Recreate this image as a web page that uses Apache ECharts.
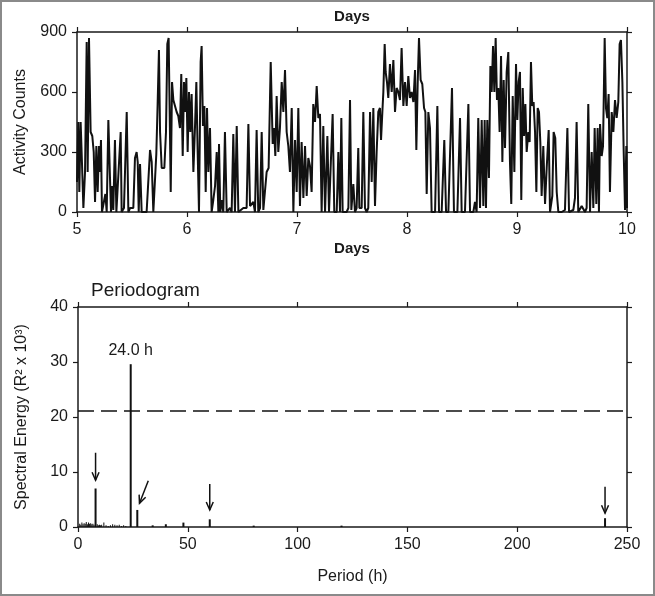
<!DOCTYPE html>
<html>
<head>
<meta charset="utf-8">
<script src="https://cdn.jsdelivr.net/npm/echarts@6/dist/echarts.min.js"></script>
<style>
html,body{margin:0;padding:0;background:#fff;}
#c{width:655px;height:596px;}
</style>
</head>
<body>
<div id="c"></div>
<script>
// ---- Activity (day, counts) ----
const activity = [
[5.000,150],[5.012,450],[5.021,100],[5.033,450],[5.045,250],[5.058,20],[5.073,200],[5.088,850],[5.097,200],[5.109,870],
[5.124,400],[5.139,380],[5.152,300],[5.164,50],[5.176,330],[5.188,100],[5.200,330],[5.209,200],[5.218,360],[5.227,0],
[5.245,0],[5.258,90],[5.270,0],[5.285,460],[5.300,170],[5.309,0],[5.318,130],[5.330,10],[5.345,360],[5.358,0],
[5.376,0],[5.397,400],[5.406,0],[5.427,20],[5.452,500],[5.467,0],[5.482,20],[5.512,20],[5.527,270],[5.542,300],
[5.552,250],[5.561,0],[5.573,240],[5.588,0],[5.633,0],[5.664,310],[5.679,250],[5.694,0],[5.709,0],[5.721,290],
[5.733,540],[5.745,810],[5.755,400],[5.770,220],[5.794,220],[5.809,400],[5.821,840],[5.833,870],[5.845,400],[5.852,100],
[5.864,650],[5.876,560],[5.891,570],[5.906,500],[5.921,480],[5.936,420],[5.948,690],[5.961,280],[5.973,650],[5.985,500],
[5.994,670],[6.006,300],[6.018,600],[6.030,400],[6.042,590],[6.058,200],[6.073,430],[6.085,650],[6.097,300],[6.109,0],
[6.124,750],[6.133,830],[6.145,430],[6.158,530],[6.170,100],[6.182,520],[6.194,200],[6.209,420],[6.224,0],[6.239,60],
[6.255,130],[6.270,300],[6.285,0],[6.291,340],[6.303,0],[6.315,60],[6.330,0],[6.345,400],[6.361,0],[6.391,20],
[6.406,0],[6.421,390],[6.436,0],[6.452,430],[6.467,0],[6.512,20],[6.542,20],[6.558,440],[6.573,30],[6.603,50],
[6.618,0],[6.633,410],[6.648,0],[6.664,20],[6.679,400],[6.694,10],[6.709,0],[6.724,200],[6.742,220],[6.761,750],
[6.779,340],[6.791,420],[6.803,280],[6.815,580],[6.830,300],[6.845,420],[6.861,650],[6.876,500],[6.891,710],[6.906,400],
[6.921,330],[6.936,200],[6.952,520],[6.967,0],[6.982,360],[6.997,100],[7.012,520],[7.027,30],[7.042,350],[7.058,70],
[7.073,330],[7.088,80],[7.103,270],[7.118,230],[7.133,100],[7.148,540],[7.164,450],[7.179,630],[7.194,470],[7.209,490],
[7.224,0],[7.239,430],[7.255,0],[7.276,380],[7.291,0],[7.309,0],[7.324,490],[7.339,0],[7.361,0],[7.376,300],
[7.391,0],[7.403,470],[7.415,0],[7.451,0],[7.467,20],[7.482,560],[7.494,10],[7.512,140],[7.527,0],[7.542,20],
[7.557,320],[7.567,20],[7.588,20],[7.603,500],[7.618,20],[7.633,0],[7.648,20],[7.664,500],[7.679,150],[7.694,520],
[7.709,30],[7.724,300],[7.739,500],[7.754,520],[7.764,360],[7.776,500],[7.785,600],[7.797,840],[7.806,700],[7.818,650],
[7.830,570],[7.845,740],[7.861,600],[7.876,760],[7.891,500],[7.906,620],[7.921,600],[7.936,560],[7.951,820],[7.967,530],
[7.982,650],[7.997,530],[8.012,680],[8.027,570],[8.042,600],[8.058,550],[8.073,710],[8.085,310],[8.097,640],[8.109,870],
[8.124,660],[8.139,640],[8.155,520],[8.167,500],[8.179,90],[8.194,500],[8.209,420],[8.224,0],[8.255,0],[8.276,530],
[8.291,0],[8.315,0],[8.339,360],[8.355,0],[8.376,0],[8.409,620],[8.427,0],[8.458,0],[8.482,470],[8.497,0],
[8.527,0],[8.558,540],[8.573,0],[8.603,0],[8.618,50],[8.633,0],[8.648,470],[8.664,20],[8.679,460],[8.694,30],
[8.706,460],[8.718,20],[8.730,460],[8.745,170],[8.758,730],[8.770,600],[8.782,830],[8.794,600],[8.806,870],[8.818,560],
[8.830,620],[8.842,400],[8.855,780],[8.867,250],[8.879,660],[8.891,320],[8.906,700],[8.921,800],[8.936,250],[8.948,40],
[8.961,580],[8.976,200],[8.991,740],[9.003,460],[9.015,650],[9.027,700],[9.039,60],[9.052,620],[9.064,380],[9.076,540],
[9.088,300],[9.103,400],[9.115,350],[9.127,750],[9.139,530],[9.151,550],[9.164,400],[9.176,100],[9.188,520],[9.200,500],
[9.212,350],[9.224,80],[9.239,330],[9.255,40],[9.270,220],[9.288,410],[9.300,0],[9.321,80],[9.333,400],[9.348,370],
[9.361,100],[9.376,0],[9.406,0],[9.436,10],[9.458,420],[9.473,0],[9.512,10],[9.527,70],[9.542,450],[9.557,0],
[9.588,30],[9.603,40],[9.618,0],[9.633,20],[9.648,540],[9.664,0],[9.679,300],[9.694,20],[9.706,420],[9.721,40],
[9.733,420],[9.745,0],[9.755,440],[9.770,280],[9.782,330],[9.797,870],[9.809,520],[9.821,470],[9.833,590],[9.845,100],
[9.861,500],[9.876,400],[9.891,560],[9.906,470],[9.921,550],[9.933,840],[9.945,860],[9.958,650],[9.970,300],[9.982,10],
[9.994,330],[10.000,20]
];

// ---- Periodogram ----
const noisePeriods = [1,1.5,2,2.5,3,3.5,4,4.5,5,5.5,6,6.5,7,7.5,9,9.5,10,10.5,11,12,13,14,15,16,17,18,19,20,21,22];
const noiseEnergy  = [0.6,0.4,0.8,0.5,0.7,0.6,0.9,0.5,0.8,0.6,0.7,0.5,0.6,0.4,0.5,0.3,0.4,0.3,0.4,0.8,0.3,0.2,0.3,0.5,0.4,0.3,0.4,0.2,0.3,0.2];
const peakPeriods  = [8,24,27,34,40,48,60,80,120,240];
const peakEnergy   = [7.0,29.6,3.1,0.3,0.5,0.8,1.4,0.25,0.25,1.6];
const significance = 21.2;
const mainPeak = 24;
const mainPeakLabel = '24.0 h';
// arrows: [fromPeriod, fromEnergy, toPeriod, toEnergy]
const arrows = [[8,13.5,8,8.5],[32,8.4,28,4.3],[60,7.8,60,3.1],[240,7.3,240,2.5]];

const dayTicks = [5,10,1];
const countTicks = [0,900,300];
const periodTicks = [0,250,50];
const energyTicks = [0,40,10];

const FONT = '"Liberation Sans", Arial, sans-serif';
const INK = '#1a1a1a';

function axisCommon(extra){
  return Object.assign({
    type:'value',
    axisLine:{show:true,onZero:false,lineStyle:{color:INK,width:1.5}},
    axisTick:{show:true,inside:false,length:5,lineStyle:{color:INK,width:1.2}},
    axisLabel:{show:true,color:INK,fontSize:16,fontFamily:FONT,margin:10},
    splitLine:{show:false},
    nameTextStyle:{color:INK,fontSize:16,fontFamily:FONT}
  }, extra);
}
function hidden(a){ a.axisLabel = Object.assign({}, a.axisLabel, {show:false}); return a; }

const chart = echarts.init(document.getElementById('c'), null, {renderer:'canvas'});

const peakData = peakPeriods.map((p,i)=>{
  const d = {value:[p, peakEnergy[i]]};
  if (p === mainPeak) d.label = {show:true, formatter:mainPeakLabel, position:'top', distance:6, color:INK, fontSize:16, fontFamily:FONT};
  return d;
});

const daysName = {color:INK,fontSize:15,fontWeight:'bold',fontFamily:FONT};

chart.setOption({
  animation:false,
  backgroundColor:'#fff',
  textStyle:{fontFamily:FONT},
  title:{text:'Periodogram', left:86, top:276, textStyle:{fontSize:19, fontWeight:'normal', color:INK, fontFamily:FONT}},
  graphic:[{type:'rect', shape:{x:1,y:1,width:653,height:594}, style:{fill:'none', stroke:'#8a8a8a', lineWidth:2}, silent:true}],
  grid:[
    {left:77, top:32, width:550, height:180},
    {left:78, top:307, width:549, height:220}
  ],
  xAxis:[
    axisCommon({gridIndex:0, position:'bottom', min:dayTicks[0], max:dayTicks[1], interval:dayTicks[2], name:'Days', nameLocation:'middle', nameGap:29, nameTextStyle:daysName}),
    hidden(axisCommon({gridIndex:0, position:'top', min:dayTicks[0], max:dayTicks[1], interval:dayTicks[2], name:'Days', nameLocation:'middle', nameGap:8, nameTextStyle:daysName})),
    axisCommon({gridIndex:1, position:'bottom', min:periodTicks[0], max:periodTicks[1], interval:periodTicks[2], name:'Period (h)', nameLocation:'middle', nameGap:42}),
    hidden(axisCommon({gridIndex:1, position:'top', min:periodTicks[0], max:periodTicks[1], interval:periodTicks[2]}))
  ],
  yAxis:[
    axisCommon({gridIndex:0, position:'left', min:countTicks[0], max:countTicks[1], interval:countTicks[2], name:'Activity Counts', nameLocation:'middle', nameGap:48}),
    hidden(axisCommon({gridIndex:0, position:'right', min:countTicks[0], max:countTicks[1], interval:countTicks[2]})),
    axisCommon({gridIndex:1, position:'left', min:energyTicks[0], max:energyTicks[1], interval:energyTicks[2], name:'Spectral Energy (R\u00B2 x 10\u00B3)', nameLocation:'middle', nameGap:48}),
    hidden(axisCommon({gridIndex:1, position:'right', min:energyTicks[0], max:energyTicks[1], interval:energyTicks[2]}))
  ],
  series:[
    {type:'line', xAxisIndex:0, yAxisIndex:0, data:activity, showSymbol:false, symbol:'none',
     lineStyle:{color:'#111', width:2}, z:3},
    {type:'bar', xAxisIndex:2, yAxisIndex:2, data:noisePeriods.map((p,i)=>[p, noiseEnergy[i]]),
     barWidth:1, itemStyle:{color:'#111'}},
    {type:'bar', xAxisIndex:2, yAxisIndex:2, data:peakData, barWidth:2, barGap:'-100%', itemStyle:{color:'#111'},
     markLine:{silent:true, symbol:['none','none'], label:{show:false},
       lineStyle:{color:'#111', width:1.6, type:[16,7]}, data:[{yAxis:significance}]}},
    {type:'custom', xAxisIndex:2, yAxisIndex:2, data:arrows, encode:{x:[0,2], y:[1,3]}, silent:true,
     renderItem:function(params, api){
       const a = api.coord([api.value(0), api.value(1)]);
       const b = api.coord([api.value(2), api.value(3)]);
       const dx = b[0]-a[0], dy = b[1]-a[1];
       const L = Math.sqrt(dx*dx+dy*dy)||1;
       const ux = dx/L, uy = dy/L;
       const h = 8, w = 3.5;
       const bx = b[0]-ux*h, by = b[1]-uy*h;
       const px = -uy, py = ux;
       return {type:'group', children:[
         {type:'line', shape:{x1:a[0],y1:a[1],x2:b[0],y2:b[1]}, style:{stroke:'#111', lineWidth:1.5}},
         {type:'polyline', shape:{points:[[bx+px*w,by+py*w],[b[0],b[1]],[bx-px*w,by-py*w]]}, style:{stroke:'#111', fill:null, lineWidth:1.5}}
       ]};
     }}
  ]
});
</script>
</body>
</html>
